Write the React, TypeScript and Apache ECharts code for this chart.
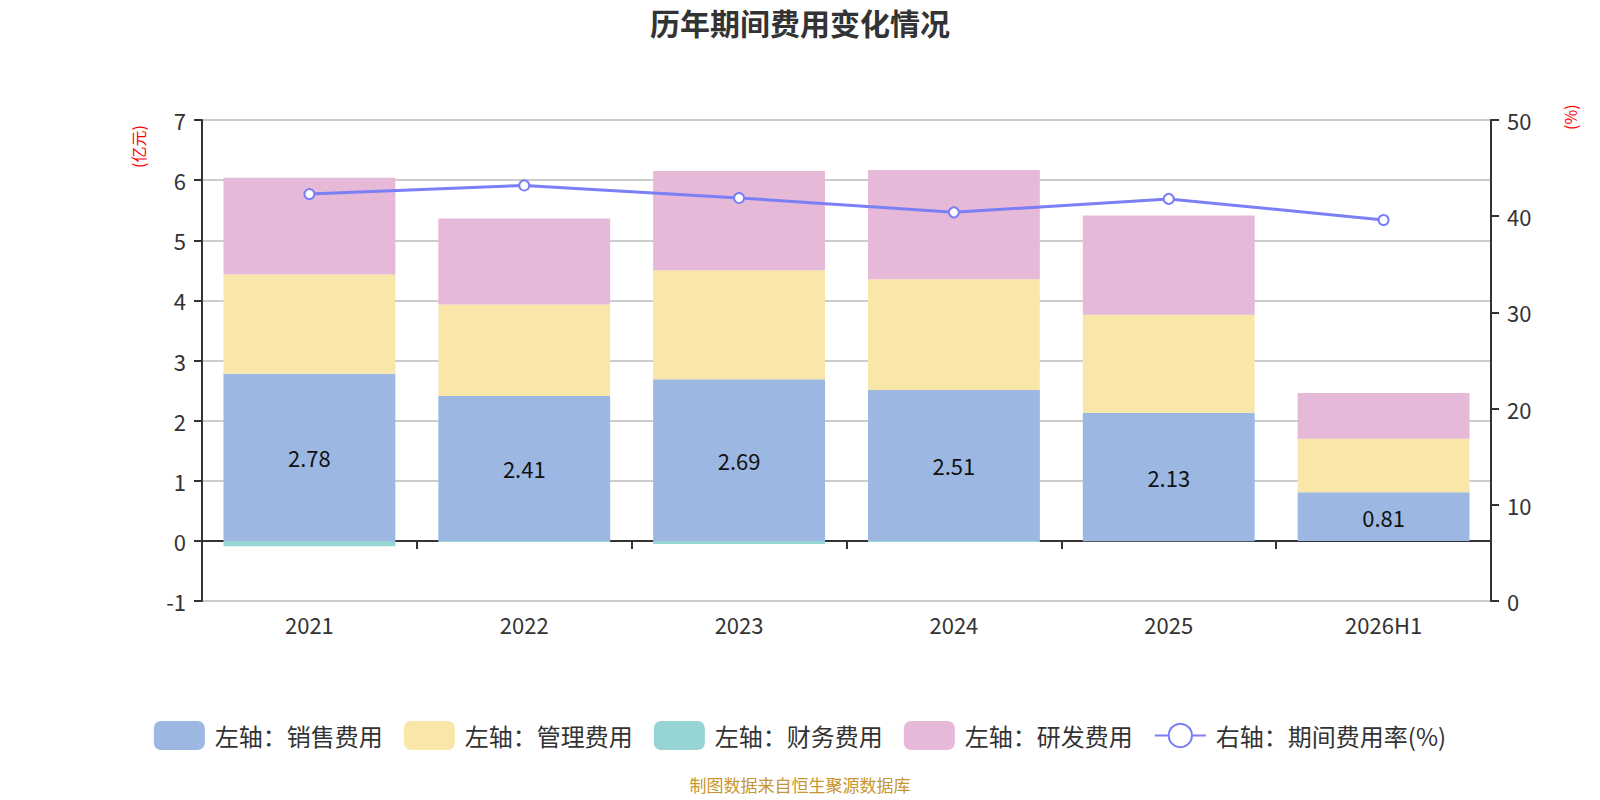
import React, { useEffect, useRef } from "react";
import * as echarts from "echarts";

const categories = ["2021", "2022", "2023", "2024", "2025", "2026H1"];
const salesExp = [2.78, 2.41, 2.69, 2.51, 2.13, 0.81];
const adminExp = [1.65, 1.52, 1.81, 1.84, 1.63, 0.89];
const financeExp = [-0.09, -0.02, -0.05, -0.02, -0.005, 0];
const rdExp = [1.61, 1.43, 1.65, 1.82, 1.65, 0.76];
const expenseRate = [42.3, 43.2, 41.9, 40.4, 41.8, 39.6];

const FONT = "'Noto Sans CJK SC', 'Noto Sans', sans-serif";

export default function App() {
  const ref = useRef<HTMLDivElement>(null);
  useEffect(() => {
    document.body.style.margin = "0";
    const chart = echarts.init(ref.current!, null, { renderer: "svg" });
    const barCommon = {
      type: "bar",
      stack: "total",
      barWidth: "80%",
      yAxisIndex: 0,
    };
    chart.setOption({
      animation: false,
      textStyle: { fontFamily: FONT },
      title: {
        text: "历年期间费用变化情况",
        left: "center",
        top: 2,
        textStyle: { fontSize: 30, fontWeight: "bold", color: "#333", fontFamily: FONT },
      },
      grid: { left: 202, right: 109, top: 120, bottom: 199, outerBoundsMode: "none" },
      legend: {
        top: 716,
        left: "center",
        itemWidth: 51,
        itemHeight: 29,
        itemGap: 21,
        textStyle: { fontSize: 24, color: "#333", fontFamily: FONT, padding: [0, 0, 0, 5] },
        data: [
          { name: "左轴：销售费用", icon: "roundRect" },
          { name: "左轴：管理费用", icon: "roundRect" },
          { name: "左轴：财务费用", icon: "roundRect" },
          { name: "左轴：研发费用", icon: "roundRect" },
          { name: "右轴：期间费用率(%)" },
        ],
      },
      xAxis: {
        type: "category",
        data: categories,
        axisLine: { onZero: true, lineStyle: { color: "#333", width: 2 } },
        axisTick: { show: true, length: 8, lineStyle: { color: "#333", width: 2 } },
        axisLabel: { fontSize: 22, color: "#333", margin: 12 },
      },
      yAxis: [
        {
          type: "value",
          min: -1,
          max: 7,
          interval: 1,
          axisLine: { show: true, lineStyle: { color: "#333", width: 2 } },
          axisTick: { show: true, length: 8, lineStyle: { color: "#333", width: 2 } },
          axisLabel: { fontSize: 22, color: "#333", margin: 16 },
          splitLine: { show: true, lineStyle: { color: "#ccc", width: 2 } },
        },
        {
          type: "value",
          min: 0,
          max: 50,
          interval: 10,
          axisLine: { show: true, lineStyle: { color: "#333", width: 2 } },
          axisTick: { show: true, length: 8, lineStyle: { color: "#333", width: 2 } },
          axisLabel: { fontSize: 22, color: "#333", margin: 16 },
          splitLine: { show: false },
        },
      ],
      graphic: [
        {
          type: "text",
          x: 130,
          y: 168,
          rotation: Math.PI / 2,
          style: { text: "(亿元)", fill: "#ff0000", fontSize: 16, fontFamily: FONT },
        },
        {
          type: "text",
          x: 1562,
          y: 130,
          rotation: Math.PI / 2,
          style: { text: "(%)", fill: "#ff0000", fontSize: 16, fontFamily: FONT },
        },
        {
          type: "text",
          left: "center",
          top: 776,
          style: { text: "制图数据来自恒生聚源数据库", fill: "#c8962e", fontSize: 17, fontFamily: FONT },
        },
      ],
      series: [
        {
          ...barCommon,
          name: "左轴：销售费用",
          data: salesExp,
          itemStyle: { color: "#9cb8e2" },
          label: { show: true, position: "inside", fontSize: 22, color: "#111", fontFamily: FONT },
        },
        { ...barCommon, name: "左轴：管理费用", data: adminExp, itemStyle: { color: "#f8e7a9" } },
        { ...barCommon, name: "左轴：财务费用", data: financeExp, itemStyle: { color: "#97d5d5" } },
        { ...barCommon, name: "左轴：研发费用", data: rdExp, itemStyle: { color: "#e7b9d8" } },
        {
          type: "line",
          name: "右轴：期间费用率(%)",
          yAxisIndex: 1,
          data: expenseRate,
          symbol: "emptyCircle",
          symbolSize: 10,
          lineStyle: { color: "#7b7ff5", width: 3 },
          itemStyle: { color: "#7b7ff5", borderWidth: 2 },
        },
      ],
    });
    return () => chart.dispose();
  }, []);
  return <div ref={ref} style={{ width: 1600, height: 800 }} />;
}
